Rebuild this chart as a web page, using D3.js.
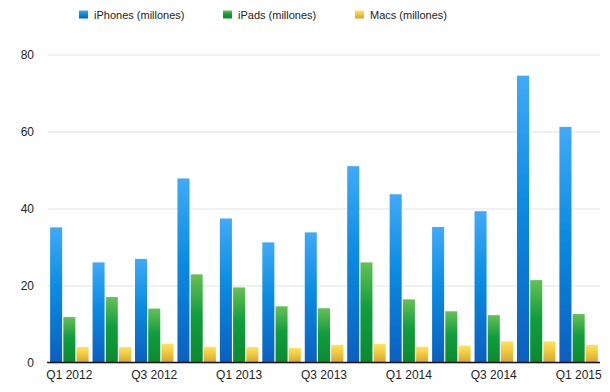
<!DOCTYPE html>
<html>
<head>
<meta charset="utf-8">
<script src="https://cdn.jsdelivr.net/npm/d3@7"></script>
<style>
  body { margin: 0; background: #fff; }
  svg { display: block; font-family: "Liberation Sans", Arial, sans-serif; }
</style>
</head>
<body>
<svg id="chart"></svg>
<script>
var quarters = ['Q1 2012','Q2 2012','Q3 2012','Q4 2012','Q1 2013','Q2 2013','Q3 2013',
                'Q4 2013','Q1 2014','Q2 2014','Q3 2014','Q4 2014','Q1 2015'];
var iphones = [35.1, 26.0, 26.9, 47.8, 37.4, 31.2, 33.8, 51.0, 43.7, 35.2, 39.3, 74.5, 61.2];
var ipads   = [11.8, 17.0, 14.0, 22.9, 19.5, 14.6, 14.1, 26.0, 16.4, 13.3, 12.3, 21.4, 12.6];
var macs    = [4.0, 4.0, 4.9, 4.1, 4.0, 3.8, 4.6, 4.8, 4.1, 4.4, 5.5, 5.5, 4.6];
var seriesNames = ['iPhones (millones)', 'iPads (millones)', 'Macs (millones)'];
var yTicks = [0, 20, 40, 60, 80];
var xLabels = ['Q1 2012','Q3 2012','Q1 2013','Q3 2013','Q1 2014','Q3 2014','Q1 2015'];

var config = {
  width: 610,
  height: 392,
  margin: {top: 54.5, right: 10, bottom: 29.5, left: 48}
};

// top / bottom gradient colours per series
var gradColors = [
  ['#40aaf8', '#0a8ce2', '#0b5fbf'],
  ['#66c055', '#119e3c', '#0b8a30'],
  ['#fde35c', '#f2c940', '#d2a52e']
];

var svg = d3.select('#chart')
  .attr('width', config.width)
  .attr('height', config.height);

var defs = svg.append('defs');
gradColors.forEach(function(c, i) {
  var g = defs.append('linearGradient')
    .attr('id', 'grad' + i)
    .attr('x1', 0).attr('y1', 0).attr('x2', 0).attr('y2', 1);
  g.append('stop').attr('offset', '0%').attr('stop-color', c[0]);
  g.append('stop').attr('offset', '45%').attr('stop-color', c[1]);
  g.append('stop').attr('offset', '100%').attr('stop-color', c[2]);
});

var inner_width = config.width - config.margin.left - config.margin.right;
var inner_height = config.height - config.margin.top - config.margin.bottom;

var chart = svg.append('g')
  .attr('transform', `translate(${config.margin.left}, ${config.margin.top})`);

var xscale = d3.scaleBand()
  .domain(quarters)
  .range([0, inner_width])
  .paddingInner(0.094)
  .paddingOuter(0.05);

var xsub = d3.scaleBand()
  .domain([0, 1, 2])
  .range([0, xscale.bandwidth()])
  .paddingInner(0.09);

var yscale = d3.scaleLinear()
  .domain([0, 80])
  .range([inner_height, 0]);

// gridlines
var grid = chart.append('g')
  .call(d3.axisLeft(yscale).tickValues(yTicks).tickSize(-inner_width).tickFormat(''));
grid.select('.domain').remove();
grid.selectAll('line').attr('stroke', '#e2e2e2').attr('stroke-width', 1);

// y labels
var yaxis = chart.append('g')
  .call(d3.axisLeft(yscale).tickValues(yTicks).tickSize(0).tickPadding(14));
yaxis.select('.domain').remove();
yaxis.selectAll('text')
  .attr('font-size', 12)
  .attr('font-family', '"Liberation Sans", Arial, sans-serif')
  .attr('fill', '#222');

var data = quarters.map(function(q, i) {
  return {label: q, values: [iphones[i], ipads[i], macs[i]]};
});

var groups = chart.selectAll('.grp')
  .data(data)
  .enter()
  .append('g')
  .attr('class', 'grp')
  .attr('transform', d => `translate(${xscale(d.label)},0)`);

groups.selectAll('rect')
  .data(d => d.values.map((v, k) => ({k: k, v: v})))
  .enter()
  .append('rect')
  .attr('x', d => xsub(d.k))
  .attr('y', d => yscale(d.v))
  .attr('width', xsub.bandwidth())
  .attr('height', d => inner_height - yscale(d.v))
  .attr('fill', d => `url(#grad${d.k})`);

// x axis
var xaxis = chart.append('g')
  .attr('transform', `translate(0, ${inner_height})`)
  .call(d3.axisBottom(xscale).tickValues(xLabels).tickSize(0).tickPadding(8));
xaxis.select('.domain')
  .attr('stroke', '#111')
  .attr('stroke-width', 1.5)
  .attr('d', `M-1,0H${inner_width}`);
xaxis.selectAll('text')
  .attr('font-size', 12)
  .attr('font-family', '"Liberation Sans", Arial, sans-serif')
  .attr('fill', '#222');

// legend
var legendX = [79, 223, 355];
var legend = svg.append('g');
seriesNames.forEach(function(name, i) {
  legend.append('rect')
    .attr('x', legendX[i])
    .attr('y', 10.5)
    .attr('width', 9)
    .attr('height', 8)
    .attr('fill', `url(#grad${i})`);
  legend.append('text')
    .attr('x', legendX[i] + 15)
    .attr('y', 19)
    .attr('font-size', 11)
    .attr('fill', '#222')
    .text(name);
});
</script>
</body>
</html>
